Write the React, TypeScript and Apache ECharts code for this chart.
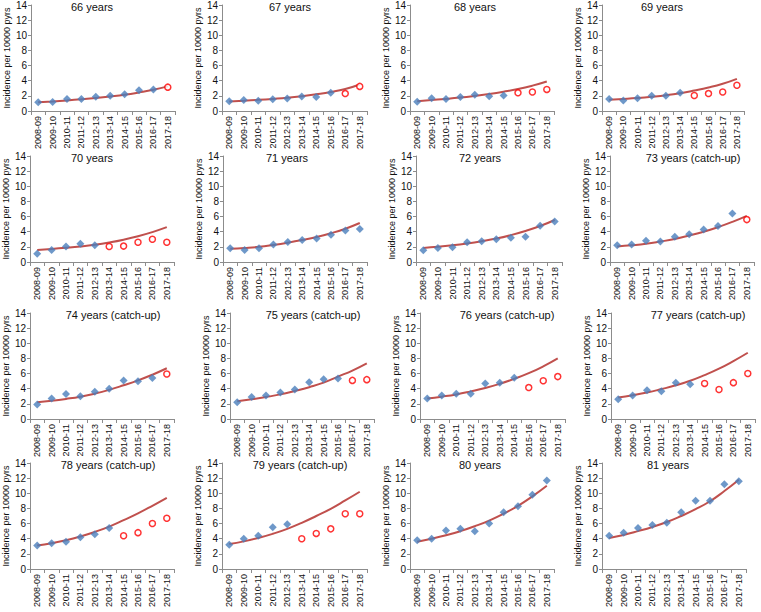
import React, { useEffect, useRef } from "react";
import * as echarts from "echarts";

const categories = ["2008-09", "2009-10", "2010-11", "2011-12", "2012-13", "2013-14", "2014-15", "2015-16", "2016-17", "2017-18"];

const panelTitles = [
  "66 years", "67 years", "68 years", "69 years",
  "70 years", "71 years", "72 years", "73 years (catch-up)",
  "74 years (catch-up)", "75 years (catch-up)", "76 years (catch-up)", "77 years (catch-up)",
  "78 years (catch-up)", "79 years (catch-up)", "80 years", "81 years",
];

const N = null;

// Fitted trend (red line)
const fitted: number[][] = [
  [1.15, 1.27, 1.4, 1.55, 1.72, 1.92, 2.15, 2.45, 2.8, 3.25],
  [1.25, 1.35, 1.47, 1.6, 1.75, 1.95, 2.2, 2.5, 2.9, 3.5],
  [1.3, 1.45, 1.6, 1.78, 2.0, 2.25, 2.55, 2.9, 3.35, 3.9],
  [1.5, 1.6, 1.72, 1.88, 2.08, 2.35, 2.7, 3.1, 3.6, 4.25],
  [1.6, 1.72, 1.87, 2.05, 2.28, 2.58, 2.95, 3.4, 3.95, 4.6],
  [1.75, 1.85, 2.0, 2.25, 2.55, 2.9, 3.3, 3.8, 4.4, 5.15],
  [1.85, 2.0, 2.2, 2.45, 2.75, 3.1, 3.55, 4.1, 4.75, 5.55],
  [2.05, 2.2, 2.4, 2.7, 3.05, 3.5, 4.0, 4.6, 5.3, 6.1],
  [2.2, 2.4, 2.65, 2.95, 3.35, 3.85, 4.45, 5.1, 5.85, 6.7],
  [2.35, 2.6, 2.9, 3.25, 3.7, 4.2, 4.8, 5.6, 6.4, 7.35],
  [2.7, 2.95, 3.25, 3.65, 4.1, 4.65, 5.3, 6.05, 6.95, 8.0],
  [2.85, 3.15, 3.5, 3.95, 4.45, 5.05, 5.8, 6.65, 7.65, 8.75],
  [3.1, 3.4, 3.8, 4.3, 4.9, 5.6, 6.45, 7.35, 8.35, 9.4],
  [3.3, 3.65, 4.1, 4.65, 5.3, 6.1, 7.0, 7.95, 9.05, 10.2],
  [3.6, 4.0, 4.45, 5.0, 5.65, 6.4, 7.3, 8.35, 9.6, 11.0],
  [4.1, 4.5, 5.0, 5.55, 6.2, 7.0, 7.9, 8.95, 10.3, 11.8],
];

// Observed incidence used for fitting (blue diamonds)
const observed: (number | null)[][] = [
  [1.14, 1.2, 1.57, 1.57, 1.88, 2.0, 2.2, 2.75, 2.85, N],
  [1.3, 1.45, 1.35, 1.55, 1.65, 1.9, 1.85, 2.4, N, N],
  [1.23, 1.67, 1.6, 1.85, 2.15, 1.95, 2.05, N, N, N],
  [1.6, 1.4, 1.7, 2.0, 2.0, 2.4, N, N, N, N],
  [1.1, 1.6, 2.05, 2.4, 2.2, N, N, N, N, N],
  [1.8, 1.57, 1.8, 2.3, 2.65, 2.9, 3.1, 3.6, 4.15, 4.35],
  [1.55, 1.85, 1.95, 2.6, 2.75, 3.0, 3.2, 3.35, 4.8, 5.35],
  [2.2, 2.3, 2.8, 2.7, 3.35, 3.65, 4.3, 4.75, 6.4, N],
  [1.9, 2.7, 3.3, 3.0, 3.6, 4.0, 5.1, 5.0, 5.4, N],
  [2.2, 2.9, 3.1, 3.5, 3.9, 4.85, 5.25, 5.35, N, N],
  [2.7, 3.1, 3.35, 3.35, 4.7, 4.8, 5.45, N, N, N],
  [2.6, 3.1, 3.8, 3.65, 4.8, 4.6, N, N, N, N],
  [3.1, 3.4, 3.6, 4.2, 4.6, 5.4, N, N, N, N],
  [3.2, 4.0, 4.4, 5.5, 5.9, N, N, N, N, N],
  [3.8, 4.0, 5.1, 5.3, 5.0, 6.0, 7.5, 8.3, 9.8, 11.7],
  [4.4, 4.8, 5.4, 5.8, 6.1, 7.5, 9.0, 9.0, 11.2, 11.6],
];

// Observed incidence after vaccination eligibility (red open circles)
const excluded: (number | null)[][] = [
  [N, N, N, N, N, N, N, N, N, 3.15],
  [N, N, N, N, N, N, N, N, 2.3, 3.25],
  [N, N, N, N, N, N, N, 2.4, 2.5, 2.85],
  [N, N, N, N, N, N, 2.05, 2.3, 2.5, 3.4],
  [N, N, N, N, N, 2.05, 2.1, 2.6, 3.0, 2.6],
  [N, N, N, N, N, N, N, N, N, N],
  [N, N, N, N, N, N, N, N, N, N],
  [N, N, N, N, N, N, N, N, N, 5.6],
  [N, N, N, N, N, N, N, N, N, 5.95],
  [N, N, N, N, N, N, N, N, 5.1, 5.2],
  [N, N, N, N, N, N, N, 4.15, 5.05, 5.6],
  [N, N, N, N, N, N, 4.7, 3.9, 4.8, 6.0],
  [N, N, N, N, N, N, 4.4, 4.8, 6.0, 6.7],
  [N, N, N, N, N, 4.0, 4.7, 5.3, 7.3, 7.3],
  [N, N, N, N, N, N, N, N, N, N],
  [N, N, N, N, N, N, N, N, N, N],
];

const yAxisName = "Incidence per 10000 pyrs";

// layout (pixels)
const rowTops = [5, 156, 313, 463];
const rowHeight = 106;
const panelLefts = [
  [31, 222, 410, 602],
  [30, 223, 416, 610],
  [30, 230, 420, 611],
  [30, 222, 410, 602],
];
const panelWidths = [
  [144, 145, 144, 142],
  [144, 144, 146, 144],
  [144, 144, 145, 144],
  [144, 145, 144, 144],
];
const titleCenters = [
  [92, 290, 475, 662],
  [92, 287, 480, 693],
  [113, 313, 507, 698],
  [108, 300, 480, 668],
];

const FONT = "'Liberation Sans', Arial, sans-serif";

export default function App() {
  const ref = useRef<HTMLDivElement>(null);
  useEffect(() => {
    document.body.style.margin = "0";
    if (!ref.current) return;
    const chart = echarts.init(ref.current, undefined, { renderer: "svg" });
    const grids: any[] = [];
    const xAxes: any[] = [];
    const yAxes: any[] = [];
    const series: any[] = [];
    const titles: any[] = [];
    for (let i = 0; i < 16; i++) {
      const r = Math.floor(i / 4);
      const c = i % 4;
      grids.push({
        left: panelLefts[r][c],
        top: rowTops[r],
        width: panelWidths[r][c],
        height: rowHeight,
        containLabel: false,
      });
      titles.push({
        text: panelTitles[i],
        left: titleCenters[r][c],
        top: rowTops[r] - 4,
        textAlign: "center",
        padding: 0,
        textStyle: { fontFamily: FONT, fontSize: 11, fontWeight: "normal", color: "#111" },
      });
      xAxes.push({
        type: "category",
        gridIndex: i,
        data: categories,
        boundaryGap: true,
        axisLine: { lineStyle: { color: "#8c8c8c", width: 1 } },
        axisTick: { show: true, length: 4, lineStyle: { color: "#8c8c8c" } },
        axisLabel: { rotate: 90, fontSize: 9, color: "#111", fontFamily: FONT, margin: 5, interval: 0 },
        splitLine: { show: false },
      });
      yAxes.push({
        type: "value",
        gridIndex: i,
        min: 0,
        max: 14,
        interval: 2,
        name: yAxisName,
        nameLocation: "middle",
        nameGap: 17,
        nameRotate: 90,
        nameTextStyle: { fontSize: 9, color: "#111", fontFamily: FONT },
        axisLine: { show: true, lineStyle: { color: "#8c8c8c", width: 1 } },
        axisTick: { show: true, length: 3, lineStyle: { color: "#8c8c8c" } },
        axisLabel: { fontSize: 10, color: "#111", fontFamily: FONT, margin: 4 },
        splitLine: { show: false },
      });
      series.push({
        type: "line",
        xAxisIndex: i,
        yAxisIndex: i,
        data: fitted[i],
        smooth: true,
        showSymbol: false,
        symbol: "none",
        lineStyle: { color: "#c0504d", width: 2 },
        z: 2,
      });
      series.push({
        type: "scatter",
        xAxisIndex: i,
        yAxisIndex: i,
        data: observed[i],
        symbol: "diamond",
        symbolSize: 8,
        itemStyle: { color: "#4a7ebb" },
        z: 3,
      });
      series.push({
        type: "scatter",
        xAxisIndex: i,
        yAxisIndex: i,
        data: excluded[i],
        symbol: "circle",
        symbolSize: 6,
        itemStyle: { color: "#ffffff", borderColor: "#ff0000", borderWidth: 1.5 },
        z: 3,
      });
    }
    chart.setOption({
      animation: false,
      backgroundColor: "#ffffff",
      title: titles,
      grid: grids,
      xAxis: xAxes,
      yAxis: yAxes,
      series,
    });
    return () => chart.dispose();
  }, []);
  return <div ref={ref} style={{ width: 761, height: 612 }} />;
}
